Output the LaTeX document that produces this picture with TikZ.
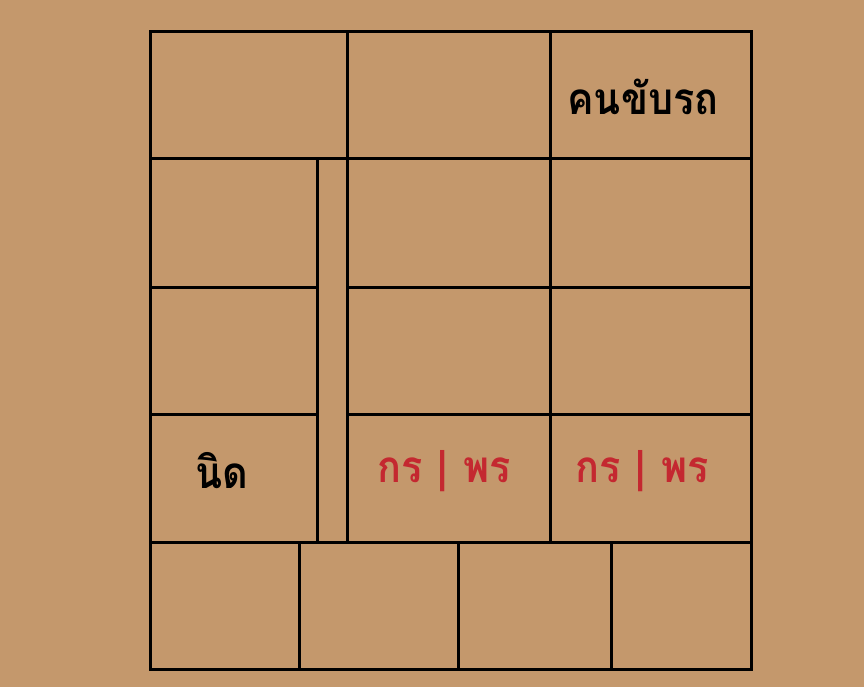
\documentclass[tikz,border=0pt]{standalone}
\usepackage{fontspec}
\newfontfamily\thaifont[Script=Thai,FakeStretch=0.9]{Loma}
\definecolor{paper}{RGB}{196,152,108}
\definecolor{seatred}{RGB}{196,40,48}
\newcommand{\seatsep}{\hspace{15pt}|\hspace{15pt}}
\begin{document}
\begin{tikzpicture}[x=1pt, y=-1pt, line width=3pt, line cap=rect]
    % Styles
    \tikzstyle{gridline} = [draw=black]
    \tikzstyle{seatname} = [font=\thaifont\bfseries\fontsize{44}{48}\selectfont, text=black, inner sep=0pt]
    \tikzstyle{seatpair} = [seatname, text=seatred]

    % Background
    \fill [paper] (0,0) rectangle (864,687);
    \useasboundingbox (0,0) rectangle (864,687);

    % Frame and rows
    \draw [gridline] (150,32) rectangle (751,669);
    \draw [gridline] (150,159) -- (751,159);
    \draw [gridline] (150,287) -- (317,287);
    \draw [gridline] (347,287) -- (751,287);
    \draw [gridline] (150,414) -- (317,414);
    \draw [gridline] (347,414) -- (751,414);
    \draw [gridline] (150,542) -- (751,542);

    % Columns
    \draw [gridline] (347,32) -- (347,542);
    \draw [gridline] (550,32) -- (550,542);
    \draw [gridline] (317,159) -- (317,542);
    \draw [gridline] (299,542) -- (299,669);
    \draw [gridline] (458,542) -- (458,669);
    \draw [gridline] (611,542) -- (611,669);

    % Labels
    \node [seatname] (driver) at (643,97) {คนขับรถ};
    \node [seatname] (nid) at (222,471) {นิด};
    \node [seatpair] (pairA) at (444,471) {กร\seatsep พร};
    \node [seatpair] (pairB) at (642,471) {กร\seatsep พร};
\end{tikzpicture}
\end{document}
